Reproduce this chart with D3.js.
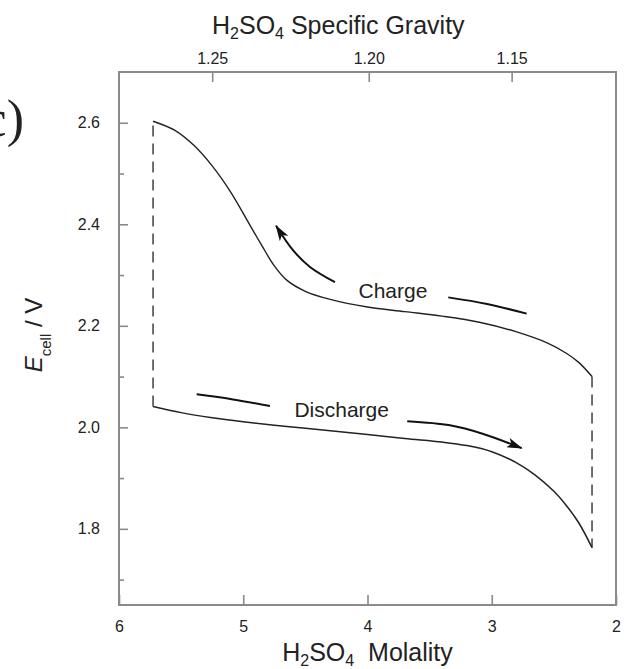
<!DOCTYPE html>
<html>
<head>
<meta charset="utf-8">
<script src="https://cdn.jsdelivr.net/npm/d3@7"></script>
<style>
  body { margin: 0; background: #fff; }
  svg text { font-family: "Liberation Sans", Arial, sans-serif; fill: #222; }
</style>
</head>
<body>
<div class="chart"></div>
<script>
const WIDTH = 627, HEIGHT = 669;
const LEFT = 119, RIGHT = 616, TOP = 72, BOTTOM = 605;
const AXIS_COLOR = "#8a8a8a";
const LINE_COLOR = "#222";

// axes
const MOLALITY_TICKS = [6, 5, 4, 3, 2];
const VOLT_TICKS = [1.8, 2.0, 2.2, 2.4, 2.6];
const VOLT_MINOR = [1.7, 1.9, 2.1, 2.3, 2.5];
const SG_TICKS = [1.25, 1.20, 1.15];
const SG_MOLALITY = [5.25, 3.99, 2.84];

// curves: [molality, volts]
const CHARGE = [[5.726, 2.603], [5.55, 2.585], [5.40, 2.556], [5.25, 2.515], [5.10, 2.463],
  [4.95, 2.400], [4.85, 2.358], [4.75, 2.318], [4.65, 2.290], [4.50, 2.268], [4.30, 2.252],
  [4.00, 2.237], [3.70, 2.228], [3.40, 2.219], [3.10, 2.207], [2.80, 2.188], [2.55, 2.166],
  [2.40, 2.146], [2.30, 2.128], [2.193, 2.100]];
const DISCHARGE = [[5.726, 2.041], [5.50, 2.029], [5.25, 2.019], [5.00, 2.011], [4.75, 2.004],
  [4.50, 1.998], [4.00, 1.986], [3.70, 1.978], [3.40, 1.971], [3.20, 1.964], [3.00, 1.952],
  [2.80, 1.930], [2.65, 1.906], [2.50, 1.874], [2.40, 1.846], [2.30, 1.812], [2.193, 1.763]];
const LEFT_JUMP = [[5.726, 2.041], [5.726, 2.603]];
const RIGHT_JUMP = [[2.193, 2.100], [2.193, 1.763]];

// annotations
const CHARGE_ARROW = [[4.262, 2.286], [4.463, 2.316], [4.600, 2.349], [4.736, 2.397]];
const CHARGE_DASH = [[3.350, 2.256], [3.038, 2.243], [2.719, 2.224]];
const DISCHARGE_DASH = [[5.375, 2.065], [5.082, 2.055], [4.785, 2.042]];
const DISCHARGE_ARROW = [[3.680, 2.012], [3.336, 2.004], [3.068, 1.987], [2.759, 1.959]];
const LABELS = [["Charge", 3.795, 2.2546], ["Discharge", 4.208, 2.020]];

const svg = d3.select(".chart").append("svg").attr("width", WIDTH).attr("height", HEIGHT);

const x = d3.scaleLinear().domain([6, 2]).range([LEFT, RIGHT]);
const y = d3.scaleLinear().domain([1.65, 2.70]).range([BOTTOM, TOP]);
const sg = d3.scaleLinear().domain(SG_TICKS).range(SG_MOLALITY.map(x));

// axes
function styleAxis(g) {
  g.select(".domain").remove();
  g.selectAll("line").attr("stroke", AXIS_COLOR).attr("stroke-width", 1.6);
  g.selectAll("text").attr("font-size", 16).attr("fill", "#222");
}

svg.append("g").attr("transform", `translate(0,${BOTTOM})`)
  .call(d3.axisBottom(x).tickValues(MOLALITY_TICKS).tickFormat(d3.format("d"))
    .tickSizeInner(-10).tickSizeOuter(0).tickPadding(16))
  .call(styleAxis);

svg.append("g").attr("transform", `translate(0,${TOP})`)
  .call(d3.axisTop(sg).tickValues(SG_TICKS).tickFormat(d3.format(".2f"))
    .tickSizeInner(-10).tickSizeOuter(0).tickPadding(8))
  .call(styleAxis);

svg.append("g").attr("transform", `translate(${LEFT},0)`)
  .call(d3.axisLeft(y).tickValues(VOLT_TICKS).tickFormat(d3.format(".1f"))
    .tickSizeInner(-9).tickSizeOuter(0).tickPadding(19))
  .call(styleAxis);

svg.append("g").attr("transform", `translate(${LEFT},0)`)
  .call(d3.axisLeft(y).tickValues(VOLT_MINOR).tickFormat("").tickSizeInner(-5).tickSizeOuter(0))
  .call(styleAxis);

svg.append("rect")
  .attr("x", LEFT).attr("y", TOP).attr("width", RIGHT - LEFT).attr("height", BOTTOM - TOP)
  .attr("fill", "none").attr("stroke", AXIS_COLOR).attr("stroke-width", 2);

// curves
const line = d3.line().x(d => x(d[0])).y(d => y(d[1])).curve(d3.curveCatmullRom.alpha(0.5));

svg.append("path").attr("d", line(CHARGE))
  .attr("fill", "none").attr("stroke", LINE_COLOR).attr("stroke-width", 1.4);
svg.append("path").attr("d", line(DISCHARGE))
  .attr("fill", "none").attr("stroke", LINE_COLOR).attr("stroke-width", 1.5);

for (const jump of [LEFT_JUMP, RIGHT_JUMP]) {
  svg.append("path").attr("d", d3.line().x(d => x(d[0])).y(d => y(d[1]))(jump))
    .attr("fill", "none").attr("stroke", LINE_COLOR).attr("stroke-width", 1.3)
    .attr("stroke-dasharray", "11,7");
}

// arrows
svg.append("defs").append("marker")
  .attr("id", "head").attr("viewBox", "0 0 16 10").attr("refX", 15).attr("refY", 5)
  .attr("markerWidth", 16).attr("markerHeight", 10).attr("markerUnits", "userSpaceOnUse")
  .attr("orient", "auto")
  .append("path").attr("d", "M0,0 L16,5 L0,10 L4,5 Z").attr("fill", "#111");

for (const a of [CHARGE_ARROW, DISCHARGE_ARROW]) {
  svg.append("path").attr("d", line(a))
    .attr("fill", "none").attr("stroke", "#111").attr("stroke-width", 2)
    .attr("marker-end", "url(#head)");
}
for (const d of [CHARGE_DASH, DISCHARGE_DASH]) {
  svg.append("path").attr("d", line(d))
    .attr("fill", "none").attr("stroke", "#111").attr("stroke-width", 2);
}

svg.selectAll(".note").data(LABELS).enter().append("text")
  .attr("x", d => x(d[1])).attr("y", d => y(d[2]))
  .attr("text-anchor", "middle").attr("font-size", 21)
  .text(d => d[0]);

// axis titles
function chemTitle(sel, rest) {
  sel.append("tspan").text("H");
  sel.append("tspan").attr("font-size", 16).attr("dy", 5).text("2");
  sel.append("tspan").attr("dy", -5).text("SO");
  sel.append("tspan").attr("font-size", 16).attr("dy", 5).text("4");
  sel.append("tspan").attr("dy", -5).text(rest);
}

const topTitle = svg.append("text").attr("x", 212).attr("y", 34).attr("font-size", 25);
chemTitle(topTitle, " Specific Gravity");

const bottomTitle = svg.append("text").attr("x", (LEFT + RIGHT) / 2).attr("y", 661)
  .attr("text-anchor", "middle").attr("font-size", 25);
chemTitle(bottomTitle, "\u00a0\u00a0Molality");

const yTitle = svg.append("text").attr("transform", "translate(42,335) rotate(-90)")
  .attr("text-anchor", "middle").attr("font-size", 24);
yTitle.append("tspan").attr("font-style", "italic").text("E");
yTitle.append("tspan").attr("font-size", 15).attr("dy", 9).text("cell");
yTitle.append("tspan").attr("dy", -9).text(" / V");

// cut-off panel letter at the left edge
svg.append("text").attr("x", 24).attr("y", 136).attr("text-anchor", "end")
  .attr("font-size", 52).style("font-family", "'Liberation Serif', serif")
  .text("(c)");
</script>
</body>
</html>
